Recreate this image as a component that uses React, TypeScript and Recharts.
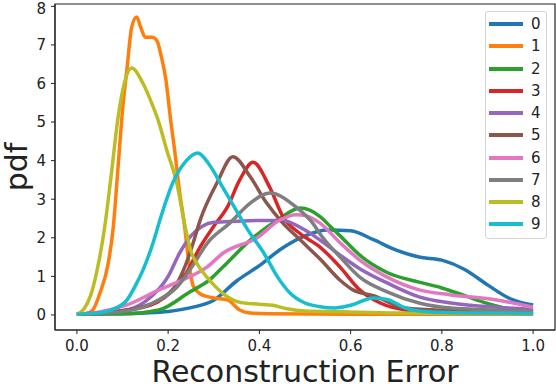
import React from "react";
import { LineChart, Line, XAxis, YAxis, ReferenceArea } from "recharts";

const FONT = '"DejaVu Sans", sans-serif';
const INK = "#222222";

// legend labels (digits) and matplotlib tab10 colours
const DIGITS = ["0", "1", "2", "3", "4", "5", "6", "7", "8", "9"];
const COLORS = ["#1f77b4", "#ff7f0e", "#2ca02c", "#d62728", "#9467bd", "#8c564b", "#e377c2", "#7f7f7f", "#bcbd22", "#17becf"];

const X_TICKS = [0, 0.2, 0.4, 0.6, 0.8, 1.0];
const Y_TICKS = [0, 1, 2, 3, 4, 5, 6, 7, 8];

// digit 0
const X0 = [0, 0.1, 0.15, 0.2, 0.25, 0.3, 0.35, 0.4, 0.45, 0.5, 0.55, 0.6, 0.65, 0.7, 0.75, 0.8, 0.85, 0.9, 0.95, 1.0];
const Y0 = [0.02, 0.03, 0.05, 0.09, 0.19, 0.38, 0.88, 1.28, 1.73, 2.05, 2.2, 2.18, 1.95, 1.68, 1.5, 1.42, 1.18, 0.78, 0.42, 0.26];
// digit 1
const X1 = [0, 0.02, 0.035, 0.05, 0.068, 0.08, 0.09, 0.1, 0.11, 0.12, 0.131, 0.14, 0.15, 0.165, 0.175, 0.185, 0.195, 0.205, 0.215, 0.225, 0.235, 0.245, 0.255, 0.27, 0.3, 0.33, 0.357, 0.38, 0.42, 0.6, 1.0];
const Y1 = [0.02, 0.03, 0.13, 0.55, 1.3, 2.3, 3.8, 5.3, 6.4, 7.45, 7.72, 7.45, 7.2, 7.2, 7.12, 6.7, 6.1, 5.1, 4.2, 3.2, 2.4, 1.4, 0.75, 0.55, 0.44, 0.39, 0.13, 0.05, 0.03, 0.02, 0.02];
// digit 2
const X2 = [0, 0.1, 0.18, 0.248, 0.29, 0.32, 0.38, 0.44, 0.49, 0.533, 0.555, 0.577, 0.62, 0.68, 0.75, 0.8, 0.85, 0.9, 0.95, 1.0];
const Y2 = [0.02, 0.03, 0.13, 0.6, 0.9, 1.24, 1.94, 2.46, 2.77, 2.55, 2.3, 2.05, 1.55, 1.1, 0.85, 0.7, 0.5, 0.3, 0.15, 0.1];
// digit 3
const X3 = [0, 0.145, 0.204, 0.24, 0.27, 0.3, 0.33, 0.357, 0.386, 0.423, 0.452, 0.49, 0.533, 0.577, 0.62, 0.665, 0.72, 0.8, 1.0];
const Y3 = [0.02, 0.2, 0.57, 1.09, 1.76, 2.3, 2.8, 3.5, 3.96, 3.3, 2.54, 2.1, 1.76, 1.24, 0.65, 0.31, 0.13, 0.06, 0.04];
// digit 4
const X4 = [0, 0.1, 0.15, 0.2, 0.225, 0.25, 0.275, 0.3, 0.35, 0.4, 0.45, 0.5, 0.533, 0.577, 0.62, 0.68, 0.75, 0.82, 0.92, 1.0];
const Y4 = [0.02, 0.1, 0.35, 1.0, 1.6, 2.05, 2.3, 2.4, 2.43, 2.45, 2.45, 2.2, 1.94, 1.55, 1.2, 0.83, 0.47, 0.31, 0.2, 0.15];
// digit 5
const X5 = [0, 0.11, 0.18, 0.22, 0.24, 0.255, 0.27, 0.307, 0.342, 0.38, 0.416, 0.45, 0.49, 0.533, 0.577, 0.605, 0.65, 0.72, 0.8, 1.0];
const Y5 = [0.02, 0.13, 0.39, 0.83, 1.35, 1.87, 2.45, 3.42, 4.1, 3.58, 2.9, 2.4, 1.94, 1.45, 0.9, 0.65, 0.5, 0.18, 0.12, 0.08];
// digit 6
const X6 = [0, 0.05, 0.11, 0.18, 0.24, 0.285, 0.32, 0.395, 0.445, 0.48, 0.5, 0.533, 0.577, 0.62, 0.68, 0.75, 0.82, 0.92, 1.0];
const Y6 = [0.02, 0.08, 0.26, 0.65, 0.95, 1.24, 1.6, 2.0, 2.46, 2.6, 2.58, 2.38, 1.87, 1.42, 0.98, 0.65, 0.52, 0.39, 0.2];
// digit 7
const X7 = [0, 0.094, 0.167, 0.22, 0.255, 0.285, 0.335, 0.38, 0.423, 0.48, 0.517, 0.533, 0.577, 0.62, 0.68, 0.75, 0.82, 1.0];
const Y7 = [0.02, 0.08, 0.31, 0.73, 1.3, 1.85, 2.38, 2.9, 3.16, 2.8, 2.38, 2.1, 1.5, 0.98, 0.6, 0.31, 0.18, 0.1];
// digit 8
const X8 = [0, 0.015, 0.03, 0.045, 0.06, 0.075, 0.09, 0.105, 0.12, 0.145, 0.167, 0.178, 0.197, 0.219, 0.237, 0.25, 0.265, 0.285, 0.3, 0.33, 0.36, 0.4, 0.43, 0.46, 0.5, 0.58, 0.7, 1.0];
const Y8 = [0.02, 0.15, 0.5, 1.2, 2.2, 3.6, 5.1, 6.05, 6.4, 6.0, 5.4, 5.05, 4.27, 3.42, 2.3, 1.65, 1.3, 0.98, 0.78, 0.47, 0.32, 0.28, 0.25, 0.16, 0.1, 0.08, 0.05, 0.03];
// digit 9
const X9 = [0, 0.05, 0.08, 0.11, 0.13, 0.145, 0.167, 0.182, 0.21, 0.24, 0.265, 0.29, 0.32, 0.35, 0.375, 0.41, 0.44, 0.467, 0.5, 0.53, 0.565, 0.6, 0.65, 0.68, 0.72, 0.77, 0.85, 1.0];
const Y9 = [0.02, 0.06, 0.15, 0.39, 0.8, 1.17, 1.87, 2.46, 3.42, 4.0, 4.2, 3.9, 3.3, 2.7, 2.2, 1.6, 0.98, 0.57, 0.31, 0.22, 0.18, 0.25, 0.44, 0.4, 0.18, 0.08, 0.05, 0.04];

const XS = [X0, X1, X2, X3, X4, X5, X6, X7, X8, X9];
const YS = [Y0, Y1, Y2, Y3, Y4, Y5, Y6, Y7, Y8, Y9];

const X_DOMAIN: [number, number] = [-0.048, 1.048];
const Y_DOMAIN: [number, number] = [-0.39, 8.06];

function points(xs: number[], ys: number[]) {
  return xs.map((x, i) => ({ x, y: ys[i] }));
}

function LegendBox() {
  return (
    <div
      style={{
        position: "absolute",
        left: 485,
        top: 11,
        width: 60,
        height: 226,
        border: "1.5px solid #d4d4d4",
        borderRadius: 3,
        background: "rgba(255,255,255,0.85)",
        fontFamily: FONT,
      }}
    >
      {DIGITS.map((d, i) => {
        const cy = 12 + 22.25 * i;
        return (
          <div key={d}>
            <div
              style={{
                position: "absolute",
                left: 3,
                top: cy - 2,
                width: 34,
                height: 4,
                background: COLORS[i],
              }}
            />
            <div
              style={{
                position: "absolute",
                left: 45,
                top: cy - 10,
                height: 20,
                lineHeight: "20px",
                fontSize: 15,
                color: INK,
              }}
            >
              {d}
            </div>
          </div>
        );
      })}
    </div>
  );
}

export default function App() {
  return (
    <div style={{ position: "absolute", left: 0, top: 0, width: 556, height: 384, background: "#fff" }}>
      <LineChart width={556} height={384} margin={{ top: 4, right: 1, bottom: 0, left: 0 }}>
        <XAxis
          dataKey="x"
          type="number"
          domain={X_DOMAIN}
          ticks={X_TICKS}
          allowDataOverflow
          height={54}
          tickFormatter={(v: number) => v.toFixed(1)}
          tick={{ fill: INK, fontSize: 15, fontFamily: FONT }}
          tickSize={4}
          tickMargin={6}
          stroke={INK}
          label={{
            value: "Reconstruction Error",
            position: "insideBottom",
            offset: 2,
            style: { fontSize: 30, fill: INK, fontFamily: FONT },
          }}
        />
        <YAxis
          type="number"
          domain={Y_DOMAIN}
          ticks={Y_TICKS}
          allowDataOverflow
          width={55}
          tick={{ fill: INK, fontSize: 15, fontFamily: FONT }}
          tickSize={4}
          tickMargin={5}
          stroke={INK}
          label={{
            value: "pdf",
            angle: -90,
            position: "center",
            dx: -11,
            style: { fontSize: 30, fill: INK, fontFamily: FONT },
          }}
        />
        <ReferenceArea
          x1={X_DOMAIN[0]}
          x2={X_DOMAIN[1]}
          y1={Y_DOMAIN[0]}
          y2={Y_DOMAIN[1]}
          fill="none"
          fillOpacity={0}
          stroke={INK}
          strokeWidth={1.2}
          strokeOpacity={1}
          ifOverflow="visible"
        />
        {DIGITS.map((d, i) => (
          <Line
            key={d}
            name={d}
            data={points(XS[i], YS[i])}
            dataKey="y"
            type="monotone"
            stroke={COLORS[i]}
            strokeWidth={3.5}
            dot={false}
            activeDot={false}
            isAnimationActive={false}
          />
        ))}
      </LineChart>
      <LegendBox />
    </div>
  );
}
